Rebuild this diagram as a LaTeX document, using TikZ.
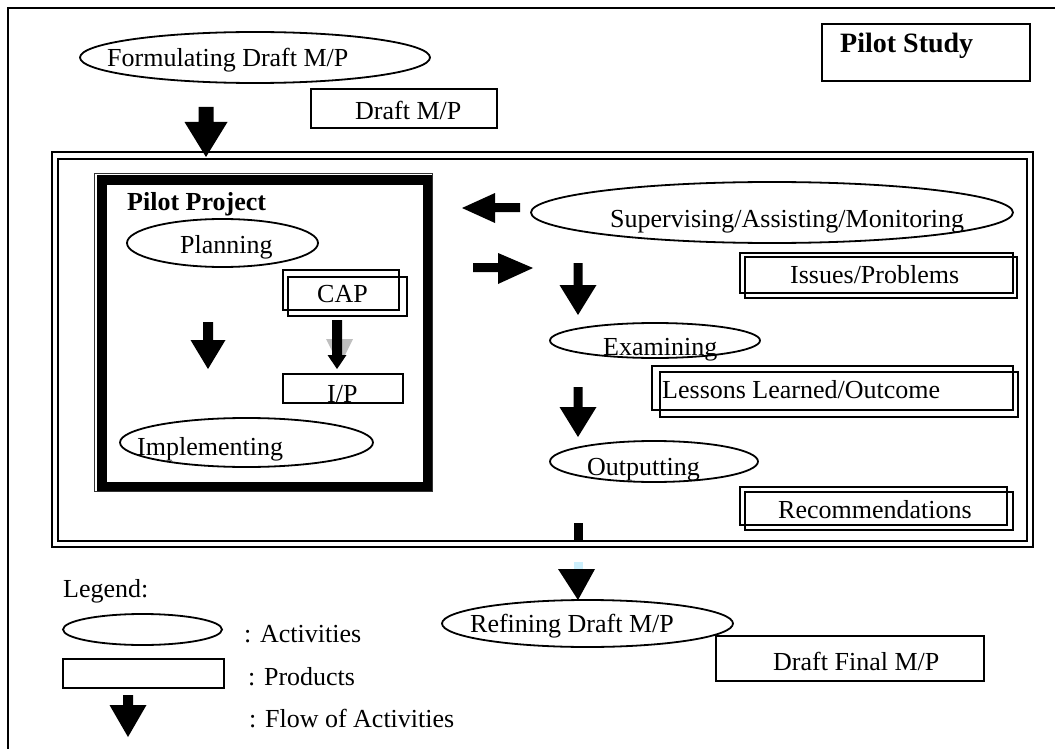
\documentclass[tikz,border=0pt]{standalone}
\usepackage{fontspec}
\setmainfont{Liberation Serif}
\usetikzlibrary{shapes.geometric}
\tikzset{
  act/.style={ellipse, draw, line width=1.8pt, inner sep=0pt},
  prod/.style={rectangle, draw, line width=1.6pt, inner sep=0pt},
  shadowbox/.style={line width=1.4pt},
  txt/.style={inner sep=0pt, anchor=base west, font=\fontsize{26}{30}\selectfont},
  btxt/.style={inner sep=0pt, anchor=base west, font=\fontsize{26}{30}\selectfont\bfseries},
}
% tip x, tip y, head half width, head height, shaft half width, shaft length
\newcommand\blkdown[6]{\fill (#1,#2) -- ++(-#3,-#4) -- ++({#3-#5},0) -- ++(0,-#6) -- ++({2*#5},0) -- ++(0,#6) -- ++({#3-#5},0) -- cycle;}
\begin{document}
\begin{tikzpicture}[x=1pt,y=-1pt]
\useasboundingbox (0,0) rectangle (1055,749);
% outer frame
\draw[line width=2.3pt] (8,8) rectangle (1070,770);

% top part
\node[act, minimum width=350pt, minimum height=51pt] (form) at (255,57.5) {};
\node[txt] (tform) at (107,67) {Formulating Draft M/P};
\node[prod, minimum width=186pt, minimum height=39pt] (draftmp) at (404,108.5) {};
\node[txt] (tdraftmp) at (355,120) {Draft M/P};
\node[prod, minimum width=208pt, minimum height=57pt] (study) at (926,52.5) {};
\node[btxt, font=\fontsize{28}{32}\selectfont\bfseries] (tstudy) at (840,53) {Pilot Study};

% big double frame
\draw[line width=2.5pt] (52,152) rectangle (1033,547);
\draw[line width=1.2pt] (58,159) rectangle (1027,541);

% top arrow into frame
\blkdown{206}{157}{21.5}{35}{7.5}{15}

% pilot project box
\draw[line width=1pt, black!80] (94.5,173.5) rectangle (432.5,491.5);
\draw[line width=9.5pt] (102,180) rectangle (427.5,486.5);
\node[btxt] (tproj) at (127,211) {Pilot Project};
\node[act, minimum width=191pt, minimum height=48pt] (plan) at (222.5,243) {};
\node[txt] (tplan) at (180,253) {Planning};
\draw[shadowbox] (288,277) rectangle (407,316);
\node[prod, line width=1.4pt, minimum width=116pt, minimum height=40pt] (cap) at (341,290) {};
\node[txt] (tcap) at (317,302) {CAP};
\node[prod, minimum width=120pt, minimum height=29pt] (ip) at (343,388.5) {};
\node[txt] (tip) at (327,402) {I/P};
\blkdown{208}{369}{17.5}{29}{5}{18}
\fill[black!25] (326,339) -- (353,339) -- (339.5,366) -- cycle;
\blkdown{337}{369}{9.5}{14}{5}{35}
\node[act, minimum width=253pt, minimum height=49pt] (impl) at (246.5,442.5) {};
\node[txt] (timpl) at (137,455) {Implementing};

% left/right arrows
\fill (462,208) -- (495,193) -- (495,203) -- (520,203) -- (520,212) -- (495,212) -- (495,223) -- cycle;
\fill (533,268) -- (498,253) -- (498,263) -- (473,263) -- (473,272) -- (498,272) -- (498,284) -- cycle;

% right column
\node[act, minimum width=482pt, minimum height=61pt] (sup) at (772,212.5) {};
\node[txt] (tsup) at (610,227) {Supervising/Assisting/Monitoring};
\draw[shadowbox] (745,257) rectangle (1017,298);
\node[prod, line width=1.4pt, minimum width=273pt, minimum height=40pt] (issues) at (876.5,273) {};
\node[txt] (tissues) at (790,283) {Issues/Problems};
\blkdown{578}{315}{18.5}{30}{4.5}{22}
\node[act, minimum width=210pt, minimum height=35pt] (exam) at (655,340.5) {};
\node[txt] (texam) at (603,355) {Examining};
\draw[shadowbox] (660,372) rectangle (1018,417);
\node[prod, line width=1.4pt, minimum width=361pt, minimum height=44pt] (lessons) at (832.5,388) {};
\node[txt] (tlessons) at (662,398) {Lessons Learned/Outcome};
\blkdown{578}{437}{18.5}{30}{4.5}{20}
\node[act, minimum width=208pt, minimum height=41pt] (outp) at (654,461.5) {};
\node[txt] (toutp) at (587,475) {Outputting};
\draw[shadowbox] (745,492) rectangle (1013,530);
\node[prod, line width=1.4pt, minimum width=267pt, minimum height=38pt] (recs) at (873.5,506) {};
\node[txt] (trecs) at (778,518) {Recommendations};

% bottom flow arrow
\fill (574,523) rectangle (583,542);
\fill[cyan!20] (574,562) rectangle (583,569);
\fill (558,569) -- (595,569) -- (578,600) -- cycle;
\node[act, minimum width=291pt, minimum height=47pt] (refine) at (587.5,623.5) {};
\node[txt] (trefine) at (470,632) {Refining Draft M/P};
\node[prod, minimum width=268pt, minimum height=45pt] (final) at (850,658.5) {};
\node[txt] (tfinal) at (773,670) {Draft Final M/P};

% legend
\node[txt] (tlegend) at (63,597) {Legend:};
\node[act, minimum width=159pt, minimum height=31pt] (legact) at (142.5,629.5) {};
\node[txt] (tlegact) at (244,642) {: Activities};
\node[prod, minimum width=161pt, minimum height=29pt] (legprod) at (143.5,673.5) {};
\node[txt] (tlegprod) at (248,685) {: Products};
\blkdown{128}{737}{18.5}{32}{5}{10}
\node[txt] (tlegflow) at (249,727) {: Flow of Activities};
\end{tikzpicture}
\end{document}
